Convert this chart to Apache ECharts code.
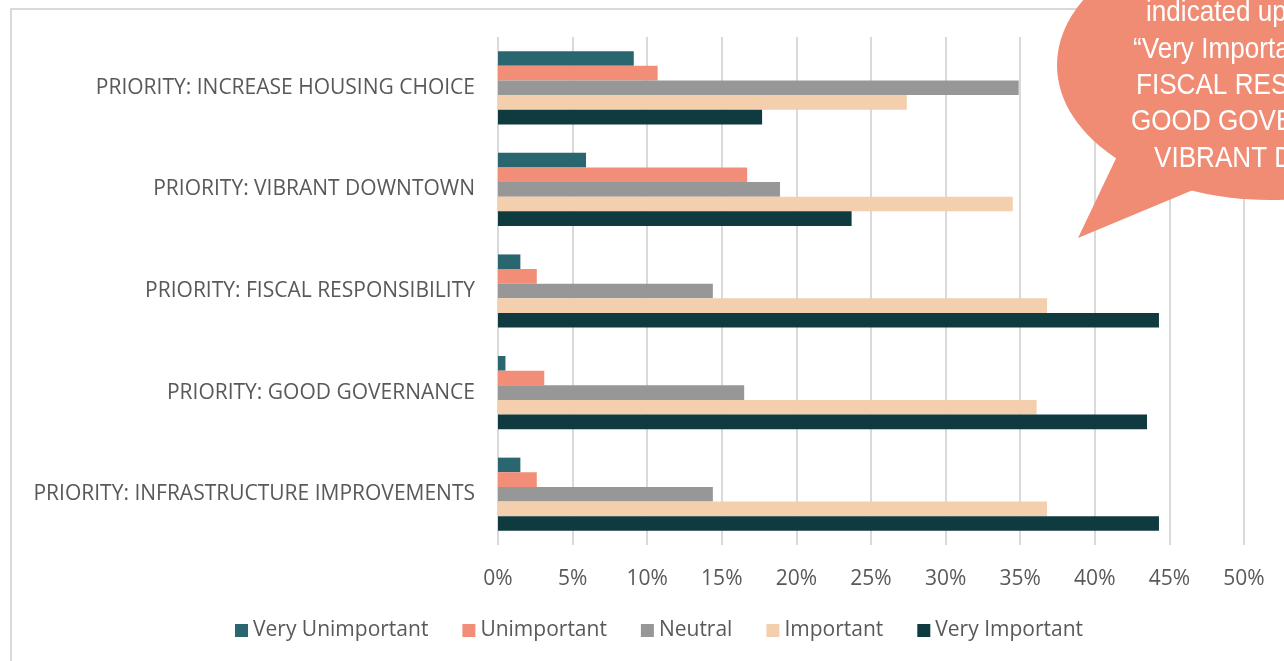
<!DOCTYPE html>
<html>
<head>
<meta charset="utf-8">
<script src="https://cdn.jsdelivr.net/npm/echarts@6/dist/echarts.min.js"></script>
<style>
  html, body { margin: 0; padding: 0; background: #fff; }
  #chart { width: 1284px; height: 661px; }
</style>
</head>
<body>
<div id="chart"></div>
<script>
// categories, bottom to top as in the picture
var categories = [
    'PRIORITY: INFRASTRUCTURE IMPROVEMENTS',
    'PRIORITY: GOOD GOVERNANCE',
    'PRIORITY: FISCAL RESPONSIBILITY',
    'PRIORITY: VIBRANT DOWNTOWN',
    'PRIORITY: INCREASE HOUSING CHOICE'
];
var seriesNames = ['Very Unimportant', 'Unimportant', 'Neutral', 'Important', 'Very Important'];
var seriesColors = ['#2a6670', '#f28e77', '#979797', '#f3cfae', '#0f3a40'];

// percent values per series, same order as categories
var veryUnimportant = [1.5, 0.5, 1.5, 5.9, 9.1];
var unimportant = [2.6, 3.1, 2.6, 16.7, 10.7];
var neutral = [14.4, 16.5, 14.4, 18.9, 34.9];
var important = [36.8, 36.1, 36.8, 34.5, 27.4];
var veryImportant = [44.3, 43.5, 44.3, 23.7, 17.7];

var xTicks = [0, 5, 10, 15, 20, 25, 30, 35, 40, 45, 50];

var calloutLines = ['indicated upon', '\u201cVery Important\u201d:', 'FISCAL RESPONSIBILITY,', 'GOOD GOVERNANCE,', 'VIBRANT DOWNTOWN'];

var values = [veryUnimportant, unimportant, neutral, important, veryImportant];

var chart = echarts.init(document.getElementById('chart'));

var series = seriesNames.map(function (name, i) {
    return {
        name: name,
        type: 'bar',
        barGap: '0%',
        barCategoryGap: '28%',
        itemStyle: { color: seriesColors[i] },
        data: values[i]
    };
});

// frame + callout bubble in the top right corner, cut off by the edge
var graphics = [
    {
        type: 'rect',
        shape: { x: 11, y: 9, width: 1300, height: 700 },
        style: { fill: 'none', stroke: '#d9d9d9', lineWidth: 2 },
        z: 0
    },
    {
        type: 'ellipse',
        shape: { cx: 1270, cy: 65, rx: 213, ry: 135 },
        style: { fill: '#f08c74' },
        z: 10
    },
    {
        type: 'polygon',
        shape: { points: [[1120, 150], [1078, 238], [1205, 185]] },
        style: { fill: '#f08c74' },
        z: 10
    }
];
var lineY = [13, 50, 86, 122, 159];
var lineX = [1146, 1133, 1136, 1131, 1154];
calloutLines.forEach(function (t, i) {
    graphics.push({
        type: 'text',
        x: lineX[i],
        y: lineY[i],
        scaleX: 0.9,
        style: {
            text: t,
            fill: '#ffffff',
            font: '29px "Liberation Sans", Arial, sans-serif',
            verticalAlign: 'middle'
        },
        z: 11
    });
});

var options = {
    animation: false,
    textStyle: { fontFamily: '"Open Sans", sans-serif' },
    grid: { left: 498, right: 40, top: 37, bottom: 116, containLabel: false },
    legend: {
        bottom: 15,
        left: 230,
        itemWidth: 13,
        itemHeight: 13,
        itemGap: 34,
        icon: 'rect',
        textStyle: { color: '#595959', fontSize: 21, fontFamily: '"Open Sans", sans-serif' },
        data: seriesNames
    },
    xAxis: {
        type: 'value',
        min: xTicks[0],
        max: xTicks[xTicks.length - 1],
        interval: 5,
        axisLine: { show: false },
        axisTick: { show: false },
        splitLine: { lineStyle: { color: '#d9d9d9', width: 2 } },
        axisLabel: {
            color: '#595959',
            fontSize: 21,
            margin: 24,
            formatter: '{value}%'
        }
    },
    yAxis: {
        type: 'category',
        data: categories,
        axisLine: { show: false },
        axisTick: { show: false },
        axisLabel: { color: '#595959', fontSize: 21, margin: 23 }
    },
    series: series,
    graphic: graphics
};
chart.setOption(options);
</script>
</body>
</html>
